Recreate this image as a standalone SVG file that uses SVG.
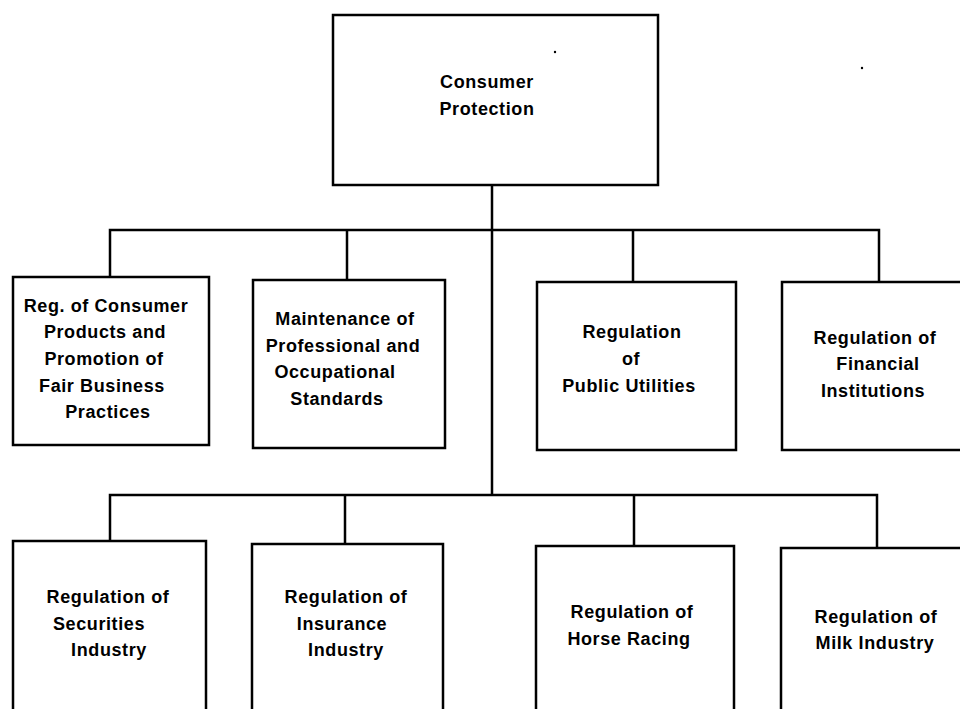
<svg xmlns="http://www.w3.org/2000/svg" width="960" height="709" viewBox="0 0 960 709">
<style>
.box{fill:#fff;stroke:#000;stroke-width:2.5}
.ln{fill:none;stroke:#000;stroke-width:2.5}
text{font-family:"Liberation Sans",Arial,sans-serif;font-weight:bold;font-size:18px;letter-spacing:0.6px;fill:#000;text-anchor:middle}
</style>
<rect width="960" height="709" fill="#fff"/>
<g id="connectors">
<path class="ln" d="M492 185V495"/>
<path class="ln" d="M110 277V230H879V282"/>
<path class="ln" d="M347 230V280M633 230V282"/>
<path class="ln" d="M110 541V495H877V548"/>
<path class="ln" d="M345 495V544M634 495V546"/>
</g>
<g id="consumer-protection">
<rect class="box" x="333" y="15" width="325" height="170"/>
<text x="487" y="88">Consumer</text>
<text x="487" y="115">Protection</text>
</g>
<g id="consumer-products">
<rect class="box" x="13" y="277" width="196" height="168"/>
<text x="106" y="312">Reg. of Consumer</text>
<text x="105" y="338">Products and</text>
<text x="104" y="365">Promotion of</text>
<text x="102" y="392">Fair Business</text>
<text x="108" y="418">Practices</text>
</g>
<g id="professional-standards">
<rect class="box" x="253" y="280" width="192" height="168"/>
<text x="345" y="325">Maintenance of</text>
<text x="343" y="352">Professional and</text>
<text x="335" y="378">Occupational</text>
<text x="337" y="405">Standards</text>
</g>
<g id="public-utilities">
<rect class="box" x="537" y="282" width="199" height="168"/>
<text x="632" y="338">Regulation</text>
<text x="631" y="365">of</text>
<text x="629" y="392">Public Utilities</text>
</g>
<g id="financial-institutions">
<rect class="box" x="782" y="282" width="200" height="168"/>
<text x="875" y="344">Regulation of</text>
<text x="878" y="370">Financial</text>
<text x="873" y="397">Institutions</text>
</g>
<g id="securities-industry">
<rect class="box" x="13" y="541" width="193" height="190"/>
<text x="108" y="603">Regulation of</text>
<text x="99" y="630">Securities</text>
<text x="109" y="656">Industry</text>
</g>
<g id="insurance-industry">
<rect class="box" x="252" y="544" width="191" height="190"/>
<text x="346" y="603">Regulation of</text>
<text x="342" y="630">Insurance</text>
<text x="346" y="656">Industry</text>
</g>
<g id="horse-racing">
<rect class="box" x="536" y="546" width="198" height="190"/>
<text x="632" y="618">Regulation of</text>
<text x="629" y="645">Horse Racing</text>
</g>
<g id="milk-industry">
<rect class="box" x="781" y="548" width="200" height="190"/>
<text x="876" y="623">Regulation of</text>
<text x="875" y="649">Milk Industry</text>
</g>
<circle cx="555" cy="52" r="1.2" fill="#000"/>
<circle cx="862" cy="68" r="1.2" fill="#000"/>
</svg>
